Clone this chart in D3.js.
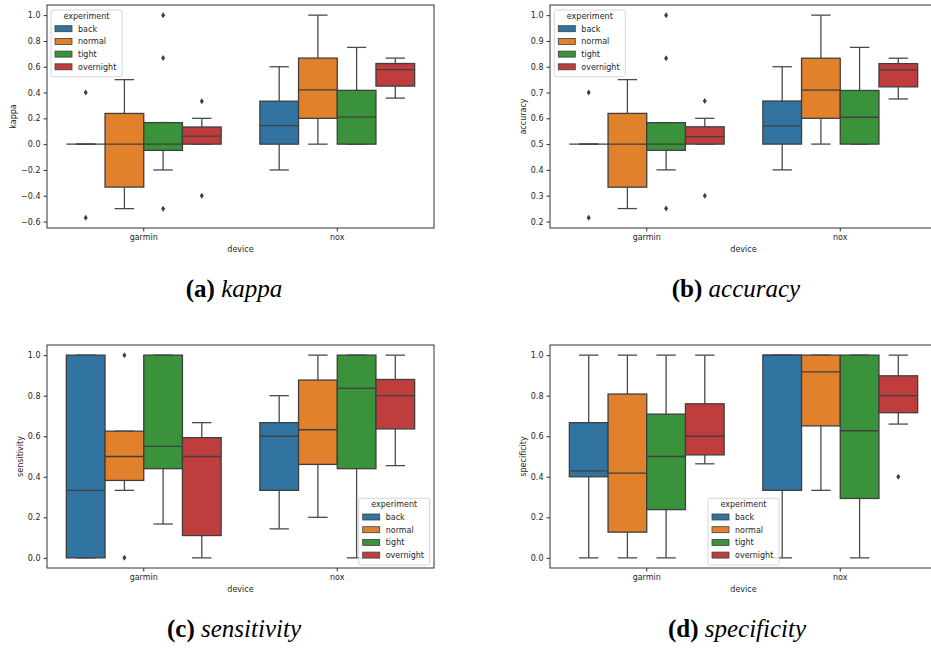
<!DOCTYPE html>
<html>
<head>
<meta charset="utf-8">
<script src="https://cdn.jsdelivr.net/npm/d3@7"></script>
<style>
  body { margin: 0; background: #fff; }
  text { font-family: "DejaVu Sans", sans-serif; fill: #262626; }
  .caption text, text.caption { font-family: "Liberation Serif", serif; fill: #000; }
</style>
</head>
<body>
<svg id="fig" width="931" height="650"></svg>
<script>
var devices = ["garmin", "nox"];
var experiments = ["back", "normal", "tight", "overnight"];
var colors = ["#3274a1", "#e1812c", "#3a923a", "#c03d3e"];

// box stats per device, per experiment: [low whisker, q1, median, q3, high whisker]
var kappaStats = [
  [[0, 0, 0, 0, 0], [-0.5, -0.333, 0, 0.238, 0.5], [-0.2, -0.048, 0, 0.167, 0.167], [0, 0, 0.062, 0.133, 0.2]],
  [[-0.2, 0, 0.143, 0.333, 0.6], [0, 0.2, 0.42, 0.667, 1.0], [0, 0, 0.21, 0.417, 0.75], [0.357, 0.45, 0.577, 0.625, 0.667]]
];
var kappaOutliers = [
  [[0.4, -0.571], [], [1.0, 0.667, -0.5], [0.333, -0.4]],
  [[], [], [], []]
];

var accuracyStats = [
  [[0.5, 0.5, 0.5, 0.5, 0.5], [0.25, 0.333, 0.5, 0.619, 0.75], [0.4, 0.476, 0.5, 0.583, 0.583], [0.5, 0.5, 0.529, 0.567, 0.6]],
  [[0.4, 0.5, 0.571, 0.667, 0.8], [0.5, 0.6, 0.709, 0.833, 1.0], [0.5, 0.5, 0.604, 0.708, 0.875], [0.675, 0.722, 0.788, 0.812, 0.833]]
];
var accuracyOutliers = [
  [[0.7, 0.214], [], [1.0, 0.833, 0.25], [0.667, 0.3]],
  [[], [], [], []]
];

var sensitivityStats = [
  [[0, 0, 0.333, 1, 1], [0.333, 0.382, 0.5, 0.625, 0.625], [0.167, 0.44, 0.55, 1, 1], [0, 0.11, 0.5, 0.593, 0.667]],
  [[0.143, 0.333, 0.6, 0.667, 0.8], [0.2, 0.461, 0.632, 0.877, 1], [0, 0.44, 0.836, 1, 1], [0.455, 0.636, 0.8, 0.88, 1]]
];
var sensitivityOutliers = [
  [[], [1, 0], [], []],
  [[], [], [], []]
];

var specificityStats = [
  [[0, 0.4, 0.429, 0.667, 1], [0, 0.127, 0.418, 0.808, 1], [0, 0.238, 0.5, 0.709, 1], [0.464, 0.508, 0.6, 0.76, 1]],
  [[0, 0.333, 1, 1, 1], [0.333, 0.651, 0.917, 1, 1], [0, 0.293, 0.627, 1, 1], [0.66, 0.716, 0.8, 0.898, 1]]
];
var specificityOutliers = [
  [[], [], [], []],
  [[], [], [], [0.4]]
];

var kappaTicks = [-0.6, -0.4, -0.2, 0.0, 0.2, 0.4, 0.6, 0.8, 1.0];
var accuracyTicks = [0.2, 0.3, 0.4, 0.5, 0.6, 0.7, 0.8, 0.9, 1.0];
var unitTicks = [0.0, 0.2, 0.4, 0.6, 0.8, 1.0];

var panels = [
  {name: "kappa", letter: "(a)", stats: kappaStats, outliers: kappaOutliers, ticks: kappaTicks,
   domain: [-0.65, 1.0786], left: 47, right: 434, top: 5, bottom: 228, ylabx: 13, legend: [51, 10], cap: [234, 297]},
  {name: "accuracy", letter: "(b)", stats: accuracyStats, outliers: accuracyOutliers, ticks: accuracyTicks,
   domain: [0.1747, 1.0393], left: 550, right: 937, top: 5, bottom: 228, ylabx: 523, legend: [554.3, 10], cap: [736, 297]},
  {name: "sensitivity", letter: "(c)", stats: sensitivityStats, outliers: sensitivityOutliers, ticks: unitTicks,
   domain: [-0.05, 1.05], left: 47, right: 434, top: 345, bottom: 568, ylabx: 20, legend: [358.7, 498.3], cap: [234, 637]},
  {name: "specificity", letter: "(d)", stats: specificityStats, outliers: specificityOutliers, ticks: unitTicks,
   domain: [-0.05, 1.05], left: 550, right: 937, top: 345, bottom: 568, ylabx: 523, legend: [708, 498.3], cap: [737, 637]}
];

var svg = d3.select("#fig");
svg.append("rect").attr("width", 931).attr("height", 650).attr("fill", "#fff");

var lineCol = "#3f3f3f";
var fmt = function(v) { return d3.format(".1f")(v).replace("-", "\u2212"); };

function drawPanel(p) {
  var g = svg.append("g");

  var x = d3.scaleBand().domain(devices).range([p.left, p.right]);
  var hue = d3.scaleBand().domain(experiments).range([-0.4 * x.bandwidth(), 0.4 * x.bandwidth()]);
  var y = d3.scaleLinear().domain(p.domain).range([p.bottom, p.top]);
  var bw = hue.bandwidth();

  devices.forEach(function(dev, i) {
    experiments.forEach(function(exp, j) {
      var s = p.stats[i][j];
      var x0 = x(dev) + x.bandwidth() / 2 + hue(exp);
      var cx = x0 + bw / 2;
      var bg = g.append("g");

      // whiskers + caps
      bg.append("line").attr("x1", cx).attr("x2", cx).attr("y1", y(s[0])).attr("y2", y(s[1]));
      bg.append("line").attr("x1", cx).attr("x2", cx).attr("y1", y(s[3])).attr("y2", y(s[4]));
      bg.append("line").attr("x1", cx - bw / 4).attr("x2", cx + bw / 4).attr("y1", y(s[0])).attr("y2", y(s[0]));
      bg.append("line").attr("x1", cx - bw / 4).attr("x2", cx + bw / 4).attr("y1", y(s[4])).attr("y2", y(s[4]));
      bg.selectAll("line").attr("stroke", "#4a4a4a").attr("stroke-width", 1.3);

      bg.append("rect")
        .attr("x", x0).attr("width", bw)
        .attr("y", y(s[3])).attr("height", Math.max(0, y(s[1]) - y(s[3])))
        .attr("fill", colors[j])
        .attr("stroke", lineCol).attr("stroke-width", 1.3);

      bg.append("line")
        .attr("x1", x0).attr("x2", x0 + bw)
        .attr("y1", y(s[2])).attr("y2", y(s[2]))
        .attr("stroke", lineCol).attr("stroke-width", 1.3);

      bg.selectAll("path.flier")
        .data(p.outliers[i][j])
        .enter().append("path")
        .attr("class", "flier")
        .attr("d", function(d) {
          var yy = y(d);
          return "M" + cx + "," + (yy - 3) + "L" + (cx + 2) + "," + yy +
                 "L" + cx + "," + (yy + 3) + "L" + (cx - 2) + "," + yy + "Z";
        })
        .attr("fill", lineCol);
    });
  });

  // frame
  g.append("rect")
    .attr("x", p.left).attr("y", p.top)
    .attr("width", p.right - p.left).attr("height", p.bottom - p.top)
    .attr("fill", "none").attr("stroke", "#333").attr("stroke-width", 1);

  var yAxis = g.append("g")
    .attr("transform", "translate(" + p.left + ",0)")
    .call(d3.axisLeft(y).tickValues(p.ticks).tickSize(3.5).tickPadding(3).tickFormat(fmt));
  yAxis.select(".domain").remove();
  yAxis.selectAll(".tick line").attr("stroke", "#333");
  yAxis.selectAll("text").attr("font-size", 8).attr("font-family", "DejaVu Sans").attr("fill", "#262626");

  var xAxis = g.append("g")
    .attr("transform", "translate(0," + p.bottom + ")")
    .call(d3.axisBottom(x).tickSize(3.5).tickPadding(3));
  xAxis.select(".domain").remove();
  xAxis.selectAll(".tick line").attr("stroke", "#333");
  xAxis.selectAll("text").attr("font-size", 8).attr("font-family", "DejaVu Sans").attr("fill", "#262626");

  g.append("text")
    .attr("x", (p.left + p.right) / 2)
    .attr("y", p.bottom + 24)
    .attr("text-anchor", "middle")
    .attr("font-size", 8)
    .text("device");

  g.append("text")
    .attr("transform", "translate(" + p.ylabx + "," + ((p.top + p.bottom) / 2) + ") rotate(-90)")
    .attr("dy", "0.35em")
    .attr("text-anchor", "middle")
    .attr("font-size", 8)
    .text(p.name);

  // legend
  var lg = g.append("g").attr("transform", "translate(" + p.legend[0] + "," + p.legend[1] + ")");
  lg.append("rect")
    .attr("width", 71).attr("height", 66.7).attr("rx", 2)
    .attr("fill", "#fff").attr("fill-opacity", 0.8)
    .attr("stroke", "#ccc").attr("stroke-width", 0.8);
  lg.append("text")
    .attr("x", 35.5).attr("y", 9)
    .attr("text-anchor", "middle")
    .attr("font-size", 8)
    .text("experiment");
  experiments.forEach(function(exp, j) {
    var ry = 18.7 + j * 12.7;
    lg.append("rect")
      .attr("x", 4).attr("y", ry - 3).attr("width", 17).attr("height", 6)
      .attr("fill", colors[j]).attr("stroke", lineCol).attr("stroke-width", 0.8);
    lg.append("text")
      .attr("x", 27).attr("y", ry + 3)
      .attr("font-size", 8)
      .text(exp);
  });

  // caption
  var cap = svg.append("text")
    .attr("class", "caption")
    .attr("x", p.cap[0]).attr("y", p.cap[1])
    .attr("text-anchor", "middle")
    .attr("font-size", 25);
  cap.append("tspan").attr("font-weight", "bold").text(p.letter + " ");
  cap.append("tspan").attr("font-style", "italic").text(p.name);
}

panels.forEach(drawPanel);
</script>
</body>
</html>
